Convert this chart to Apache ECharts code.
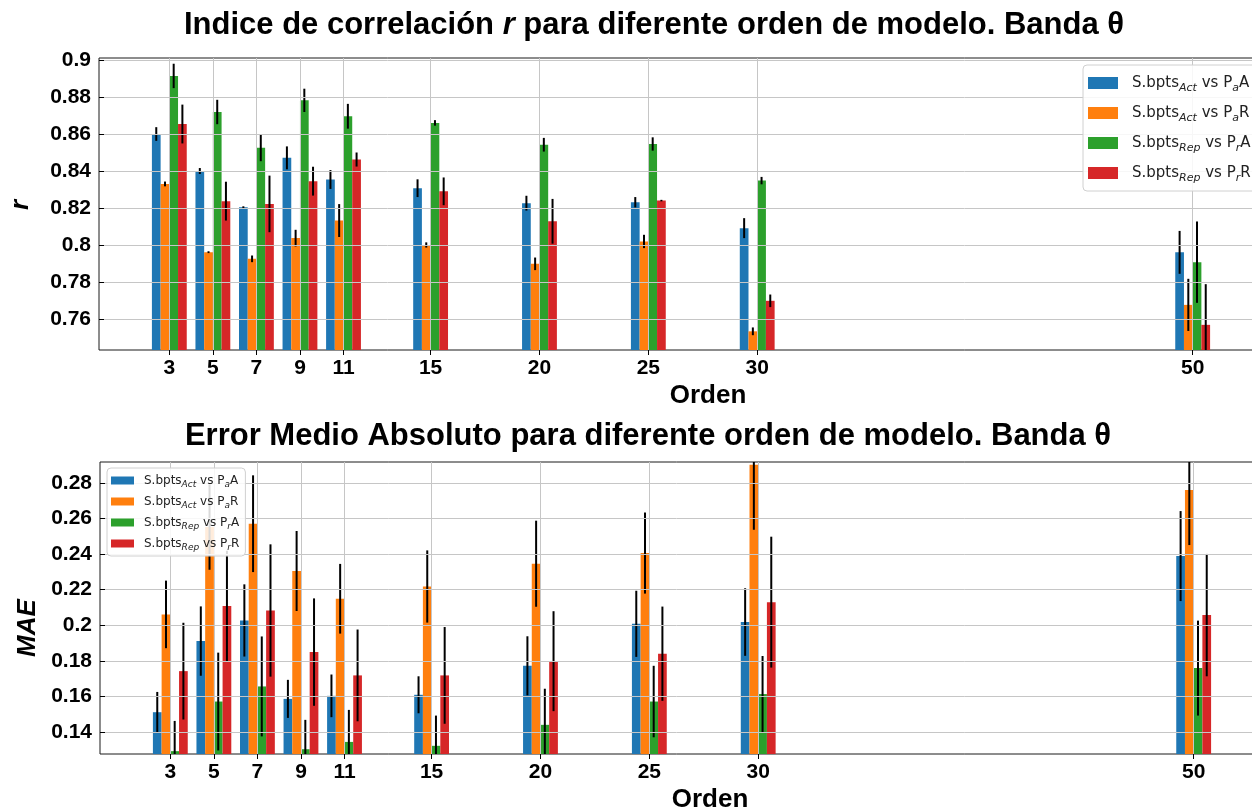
<!DOCTYPE html>
<html>
<head>
<meta charset="utf-8">
<script src="https://cdn.jsdelivr.net/npm/echarts@6/dist/echarts.min.js"></script>
<style>
html,body{margin:0;padding:0;background:#fff;}
#chart{width:1252px;height:812px;}
</style>
</head>
<body>
<div id="chart"></div>
<script>
// ---------- DATA ----------
const orders = [3, 5, 7, 9, 11, 15, 20, 25, 30, 50];
const seriesNames = ['S.bpts_Act vs P_aA', 'S.bpts_Act vs P_aR', 'S.bpts_Rep vs P_rA', 'S.bpts_Rep vs P_rR'];

// correlation index r
const rActA     = [0.860, 0.840, 0.8204, 0.8471, 0.8354, 0.8307, 0.8226, 0.8231, 0.8091, 0.796];
const rActA_err = [0.0037, 0.0016, 0.0005, 0.0062, 0.0051, 0.0048, 0.004, 0.0028, 0.0054, 0.0116];
const rActR     = [0.833, 0.7961, 0.7925, 0.8037, 0.8132, 0.800, 0.7898, 0.8019, 0.7533, 0.7676];
const rActR_err = [0.0013, 0.0005, 0.0018, 0.0045, 0.0089, 0.0014, 0.0034, 0.0036, 0.0021, 0.0141];
const rRepA     = [0.8914, 0.8719, 0.8525, 0.8782, 0.8696, 0.866, 0.8542, 0.8546, 0.8348, 0.7907];
const rRepA_err = [0.0066, 0.0066, 0.0072, 0.0063, 0.0067, 0.0015, 0.0037, 0.0036, 0.002, 0.022];
const rRepR     = [0.8654, 0.8237, 0.8222, 0.8345, 0.8462, 0.829, 0.8128, 0.824, 0.7698, 0.7568];
const rRepR_err = [0.0105, 0.0105, 0.0153, 0.0078, 0.0038, 0.0075, 0.0121, 0.0004, 0.0034, 0.022];

// mean absolute error
const maeActA     = [0.1511, 0.1911, 0.2027, 0.1586, 0.1603, 0.1609, 0.1772, 0.2008, 0.2018, 0.2389];
const maeActA_err = [0.0114, 0.0195, 0.0203, 0.0107, 0.012, 0.0104, 0.0166, 0.0186, 0.019, 0.0253];
const maeActR     = [0.2061, 0.2552, 0.2571, 0.2305, 0.2149, 0.2218, 0.2346, 0.2406, 0.2903, 0.2761];
const maeActR_err = [0.019, 0.024, 0.0272, 0.0225, 0.0196, 0.0203, 0.0242, 0.0228, 0.0366, 0.031];
const maeRepA     = [0.1292, 0.1571, 0.1656, 0.1303, 0.1344, 0.1322, 0.144, 0.1571, 0.1613, 0.1759];
const maeRepA_err = [0.017, 0.0275, 0.0281, 0.0165, 0.018, 0.017, 0.0203, 0.0201, 0.0214, 0.0267];
const maeRepR     = [0.1742, 0.2108, 0.2083, 0.1849, 0.1718, 0.1718, 0.1798, 0.184, 0.213, 0.2057];
const maeRepR_err = [0.0272, 0.0311, 0.0372, 0.0302, 0.0258, 0.0272, 0.0281, 0.0265, 0.0368, 0.0344];

// tick labels
const rTicks   = [0.76, 0.78, 0.80, 0.82, 0.84, 0.86, 0.88, 0.90];
const maeTicks = [0.14, 0.16, 0.18, 0.20, 0.22, 0.24, 0.26, 0.28];

// ---------- STYLE ----------
const colors = ['#1f77b4', '#ff7f0e', '#2ca02c', '#d62728'];
const barOffsets = [-0.6, -0.2, 0.2, 0.6];
const barWidth = 0.4;
const FONT = '"Liberation Sans", Arial, sans-serif';
const LFONT = '"DejaVu Sans", sans-serif';

function richName(name) {
  return name.replace(/_([A-Za-z]+?)(?=\s|A$|R$)/g, function (m, s) { return '{s|' + s + '}'; });
}

function makeRender(k) {
  return function (params, api) {
    const x = api.value(0), v = api.value(1), e = api.value(2);
    const cs = params.coordSys;
    const bottom = cs.y + cs.height;
    const xc = x + barOffsets[k];
    const pL = api.coord([xc - barWidth / 2, v]);
    const pR = api.coord([xc + barWidth / 2, v]);
    const rect = echarts.graphic.clipRectByRect(
      { x: pL[0], y: pL[1], width: pR[0] - pL[0], height: bottom - pL[1] },
      { x: cs.x, y: cs.y, width: cs.width, height: cs.height });
    const pc = api.coord([xc, v]);
    let yTop = api.coord([xc, v + e])[1];
    let yBot = api.coord([xc, v - e])[1];
    yTop = Math.max(yTop, cs.y);
    yBot = Math.min(yBot, bottom);
    const children = [];
    if (rect) children.push({ type: 'rect', shape: rect, style: { fill: colors[k] } });
    children.push({ type: 'line', shape: { x1: pc[0], y1: yTop, x2: pc[0], y2: yBot },
      style: { stroke: '#000', lineWidth: 2 }, z2: 10 });
    return { type: 'group', children: children };
  };
}

function buildData(vals, errs) {
  return orders.map(function (o, i) { return [o, vals[i], errs[i]]; });
}

const topSets = [[rActA, rActA_err], [rActR, rActR_err], [rRepA, rRepA_err], [rRepR, rRepR_err]];
const botSets = [[maeActA, maeActA_err], [maeActR, maeActR_err], [maeRepA, maeRepA_err], [maeRepR, maeRepR_err]];

const series = [];
[topSets, botSets].forEach(function (sets, g) {
  sets.forEach(function (s, k) {
    series.push({
      type: 'custom',
      name: seriesNames[k],
      xAxisIndex: g, yAxisIndex: g,
      itemStyle: { color: colors[k] },
      renderItem: makeRender(k),
      encode: { x: 0, y: 1 },
      data: buildData(s[0], s[1]),
      z: 1
    });
  });
});

function xAxisCfg(g) {
  return {
    gridIndex: g, type: 'value', min: -0.23, max: 53.23, z: 3,
    axisLine: { show: false },
    axisTick: { show: true, length: 5, customValues: orders, lineStyle: { color: '#000', width: 1 } },
    axisLabel: { customValues: orders, fontSize: 21, fontWeight: 'bold', color: '#000', fontFamily: FONT, margin: 8 },
    splitLine: { show: true, lineStyle: { color: '#c6c6c6', width: 1 } }
  };
}
function yAxisCfg(g, min, max, ticks) {
  return {
    gridIndex: g, type: 'value', min: min, max: max, z: 3,
    axisLine: { show: false },
    axisTick: { show: true, length: 5, customValues: ticks, lineStyle: { color: '#000', width: 1 } },
    axisLabel: { customValues: ticks, fontSize: 21, fontWeight: 'bold', color: '#000', fontFamily: FONT, margin: 8,
      formatter: function (v) { return String(+(+v).toFixed(2)); } },
    splitLine: { show: true, lineStyle: { color: '#c6c6c6', width: 1 } }
  };
}

function legendCfg(left, top, fs, sub, iw, ih, gap, lh, pad, tpad) {
  return {
    orient: 'vertical', left: left, top: top, align: 'left',
    icon: 'rect', itemWidth: iw, itemHeight: ih, itemGap: gap,
    padding: pad, selectedMode: false,
    backgroundColor: 'rgba(255,255,255,0.85)', borderColor: '#d0d0d0', borderWidth: 1, borderRadius: 4,
    data: seriesNames,
    formatter: richName,
    textStyle: {
      fontFamily: LFONT, fontSize: fs, color: '#222', lineHeight: lh, padding: [0, 0, 0, tpad],
      rich: { s: { fontFamily: LFONT, fontSize: sub, fontStyle: 'italic', color: '#222', verticalAlign: 'bottom', lineHeight: Math.round(sub * 1.1) } }
    }
  };
}

const titleRich = { i: { fontStyle: 'italic', fontWeight: 'bold', fontSize: 31, fontFamily: FONT, fill: '#000' } };

const option = {
  animation: false,
  backgroundColor: '#fff',
  grid: [
    { left: 99, top: 58, width: 1164, height: 292, outerBoundsMode: 'none', show: true, borderColor: '#1a1a1a', borderWidth: 1, backgroundColor: 'transparent' },
    { left: 100, top: 462, width: 1164, height: 292, outerBoundsMode: 'none', show: true, borderColor: '#1a1a1a', borderWidth: 1, backgroundColor: 'transparent' }
  ],
  xAxis: [xAxisCfg(0), xAxisCfg(1)],
  yAxis: [yAxisCfg(0, 0.7432, 0.9011, rTicks), yAxisCfg(1, 0.1276, 0.2918, maeTicks)],
  legend: [
    legendCfg(1083, 65, 15, 11, 30, 12, 8, 22, [7, 30, 7, 5], 9),
    legendCfg(107, 468, 12, 9, 23, 8, 4, 17, [4, 6, 4, 4], 5)
  ],
  graphic: [
    { type: 'text', x: 654, y: 25, z: 100, style: { text: 'Indice de correlación {i|r} para diferente orden de modelo. Banda θ',
      rich: titleRich, fontFamily: FONT, fontWeight: 'bold', fontSize: 31, fill: '#000', align: 'center', verticalAlign: 'middle' } },
    { type: 'text', x: 648, y: 436, z: 100, style: { text: 'Error Medio Absoluto para diferente orden de modelo. Banda θ',
      fontFamily: FONT, fontWeight: 'bold', fontSize: 31, fill: '#000', align: 'center', verticalAlign: 'middle' } },
    { type: 'text', x: 708, y: 396, z: 100, style: { text: 'Orden', fontFamily: FONT, fontWeight: 'bold', fontSize: 26, fill: '#000', align: 'center', verticalAlign: 'middle' } },
    { type: 'text', x: 710, y: 800, z: 100, style: { text: 'Orden', fontFamily: FONT, fontWeight: 'bold', fontSize: 26, fill: '#000', align: 'center', verticalAlign: 'middle' } },
    { type: 'text', x: 21, y: 205, rotation: Math.PI / 2, z: 100, style: { text: 'r', fontFamily: FONT, fontWeight: 'bold', fontStyle: 'italic', fontSize: 26, fill: '#000', align: 'center', verticalAlign: 'middle' } },
    { type: 'text', x: 28, y: 628, rotation: Math.PI / 2, z: 100, style: { text: 'MAE', fontFamily: FONT, fontWeight: 'bold', fontStyle: 'italic', fontSize: 26, fill: '#000', align: 'center', verticalAlign: 'middle' } }
  ],
  series: series
};

const chart = echarts.init(document.getElementById('chart'), null, { renderer: 'canvas' });
chart.setOption(option);
</script>
</body>
</html>
